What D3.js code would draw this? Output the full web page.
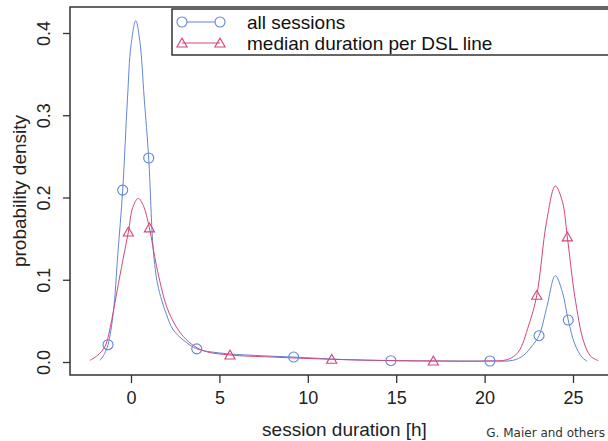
<!DOCTYPE html>
<html>
<head>
<meta charset="utf-8">
<script src="https://cdn.jsdelivr.net/npm/d3@7"></script>
<style>
  body { margin: 0; background: #fff; }
  svg { display: block; font-family: "Liberation Sans", Arial, sans-serif; }
</style>
</head>
<body>
<svg width="608" height="441"></svg>
<script>
const width = 608, height = 441;

// density curve of all sessions
const allX = [-1.75, -1.5, -1.3, -1.0, -0.75, -0.47, -0.2, 0.0, 0.27, 0.5, 0.75, 1.0, 1.26, 1.5, 1.74, 2.0, 2.39, 3.0, 3.72, 5, 7, 9.2, 12, 14.7, 17.5, 20.3, 21.6, 22.2, 22.7, 23.08, 23.5, 24.0, 24.4, 24.73, 25.1, 25.5, 25.8];
const allY = [0.002, 0.01, 0.021, 0.06, 0.13, 0.209, 0.32, 0.385, 0.415, 0.39, 0.32, 0.248, 0.136, 0.095, 0.075, 0.058, 0.039, 0.026, 0.016, 0.011, 0.008, 0.006, 0.003, 0.0016, 0.0013, 0.0012, 0.002, 0.008, 0.02, 0.032, 0.065, 0.105, 0.085, 0.051, 0.022, 0.006, 0.001];

// density curve of median duration per DSL line
const medX = [-2.32, -1.9, -1.47, -1.1, -0.81, -0.45, -0.15, 0.1, 0.41, 0.7, 1.04, 1.45, 2.02, 2.5, 2.96, 3.6, 4.28, 5.6, 8, 11.35, 14, 17.1, 20, 21.3, 21.9, 22.5, 22.95, 23.5, 24.0, 24.4, 24.68, 25.1, 25.6, 26.0, 26.43];
const medY = [0.002, 0.008, 0.019, 0.05, 0.084, 0.125, 0.158, 0.188, 0.199, 0.19, 0.163, 0.116, 0.067, 0.045, 0.031, 0.019, 0.0125, 0.0085, 0.006, 0.0033, 0.002, 0.0012, 0.0012, 0.003, 0.012, 0.045, 0.081, 0.17, 0.214, 0.195, 0.152, 0.08, 0.025, 0.007, 0.0016];

// plotted symbols
const allMarkX = [-1.3, -0.47, 1.0, 3.72, 9.2, 14.7, 20.3, 23.08, 24.73];
const allMarkY = [0.021, 0.209, 0.248, 0.016, 0.006, 0.0016, 0.0012, 0.032, 0.051];
const medMarkX = [-0.15, 1.04, 5.6, 11.35, 17.1, 22.95, 24.68];
const medMarkY = [0.158, 0.163, 0.0085, 0.0033, 0.0012, 0.081, 0.152];

const xTicks = [0, 5, 10, 15, 20, 25];
const yTicks = [0, 0.1, 0.2, 0.3, 0.4];
const legendLabels = ["all sessions", "median duration per DSL line"];

const blue = "#6286d6";
const red = "#d4457c";
const ink = "#333";

// plot region
const plot = { left: 70, right: 619, top: 7, bottom: 375 };

const x = d3.scaleLinear().domain([0, 25]).range([131, 573]);
const y = d3.scaleLinear().domain([0, 0.4]).range([362, 33]);

const svg = d3.select("svg");

// curves
const line = d3.line()
  .x(d => x(d[0]))
  .y(d => y(d[1]))
  .curve(d3.curveCatmullRom.alpha(0.5));

svg.append("path")
  .datum(d3.zip(allX, allY))
  .attr("fill", "none")
  .attr("stroke", blue)
  .attr("stroke-width", 1)
  .attr("d", line);

svg.append("path")
  .datum(d3.zip(medX, medY))
  .attr("fill", "none")
  .attr("stroke", red)
  .attr("stroke-width", 1)
  .attr("d", line);

const tri = d3.symbol().type(d3.symbolTriangle).size(45);

svg.append("g").selectAll("circle")
  .data(d3.zip(allMarkX, allMarkY))
  .enter().append("circle")
  .attr("cx", d => x(d[0]))
  .attr("cy", d => y(d[1]))
  .attr("r", 5)
  .attr("fill", "none")
  .attr("stroke", blue)
  .attr("stroke-width", 1.1);

svg.append("g").selectAll("path")
  .data(d3.zip(medMarkX, medMarkY))
  .enter().append("path")
  .attr("d", tri)
  .attr("transform", d => `translate(${x(d[0])},${y(d[1]) + 1})`)
  .attr("fill", "none")
  .attr("stroke", red)
  .attr("stroke-width", 1.1);

// box
svg.append("rect")
  .attr("x", plot.left)
  .attr("y", plot.top)
  .attr("width", plot.right - plot.left)
  .attr("height", plot.bottom - plot.top)
  .attr("fill", "none")
  .attr("stroke", ink)
  .attr("stroke-width", 1.5);

// x axis
const gx = svg.append("g")
  .attr("transform", `translate(0,${plot.bottom})`)
  .call(d3.axisBottom(x).tickValues(xTicks).tickSize(8).tickPadding(8).tickFormat(d3.format("d")))
  .call(g => g.select(".domain").remove());
gx.selectAll(".tick line").attr("stroke", ink).attr("stroke-width", 1.3);
gx.selectAll(".tick text")
  .attr("font-size", 18)
  .attr("font-family", "Liberation Sans, Arial, sans-serif")
  .attr("fill", "#222");

// y axis
const gy = svg.append("g")
  .attr("transform", `translate(${plot.left},0)`)
  .call(d3.axisLeft(y).tickValues(yTicks).tickSize(7).tickFormat(d3.format(".1f")))
  .call(g => g.select(".domain").remove());
gy.selectAll(".tick line").attr("stroke", ink).attr("stroke-width", 1.3);
gy.selectAll(".tick text")
  .attr("x", null).attr("dy", null)
  .attr("transform", "translate(-20,0) rotate(-90)")
  .attr("text-anchor", "middle")
  .attr("font-size", 18)
  .attr("font-family", "Liberation Sans, Arial, sans-serif")
  .attr("fill", "#222");

// axis titles
svg.append("text")
  .attr("x", (plot.left + plot.right) / 2)
  .attr("y", 436)
  .attr("text-anchor", "middle")
  .attr("font-size", 19)
  .attr("fill", "#222")
  .text("session duration [h]");

svg.append("text")
  .attr("transform", `translate(26,${(plot.top + plot.bottom) / 2}) rotate(-90)`)
  .attr("text-anchor", "middle")
  .attr("font-size", 19)
  .attr("fill", "#222")
  .text("probability density");

// legend
const lg = svg.append("g");
lg.append("rect")
  .attr("x", 172).attr("y", 9)
  .attr("width", 460).attr("height", 46)
  .attr("fill", "#fff")
  .attr("stroke", ink)
  .attr("stroke-width", 1.5);

const rows = [22, 43];
legendLabels.forEach((lab, i) => {
  const col = i === 0 ? blue : red;
  const cy = rows[i];
  lg.append("line")
    .attr("x1", 182).attr("x2", 220)
    .attr("y1", cy).attr("y2", cy)
    .attr("stroke", col).attr("stroke-width", 1.1);
  [182, 220].forEach(cx => {
    if (i === 0) {
      lg.append("circle").attr("cx", cx).attr("cy", cy).attr("r", 5)
        .attr("fill", "#fff").attr("stroke", col).attr("stroke-width", 1.1);
    } else {
      lg.append("path").attr("d", tri)
        .attr("transform", `translate(${cx},${cy + 1})`)
        .attr("fill", "none").attr("stroke", col).attr("stroke-width", 1.1);
    }
  });
  lg.append("text")
    .attr("x", 247).attr("y", cy + 7)
    .attr("font-size", 19)
    .attr("fill", "#111")
    .text(lab);
});

// source credit
svg.append("text")
  .attr("x", 605).attr("y", 437)
  .attr("text-anchor", "end")
  .attr("font-family", "DejaVu Sans, Verdana, sans-serif")
  .attr("font-size", 12)
  .attr("fill", "#333")
  .text("G. Maier and others");
</script>
</body>
</html>
